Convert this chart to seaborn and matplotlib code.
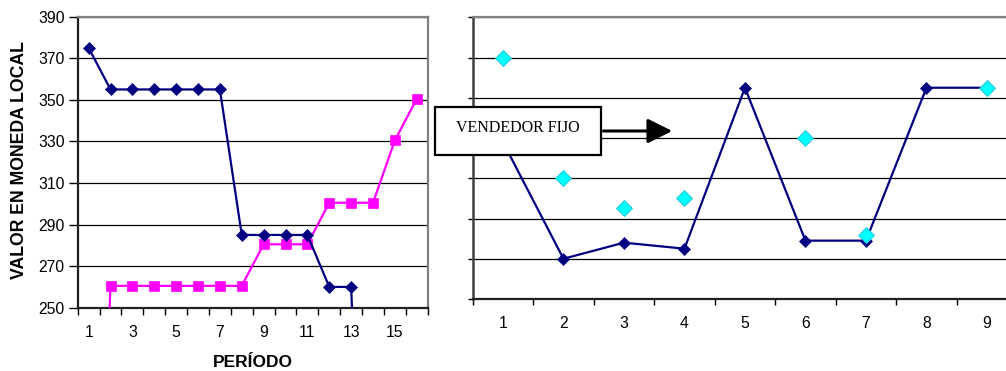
import numpy as np
import pandas as pd
import matplotlib
matplotlib.use("Agg")
import matplotlib.pyplot as plt
import seaborn as sns
from matplotlib.patches import Rectangle, FancyArrowPatch

# ---------------- data ----------------
periods_left = list(range(1, 17))
navy_left = [375, 355, 355, 355, 355, 355, 355, 285, 285, 285, 285, 260, 260, 0, np.nan, np.nan]
pink_left = [0, 260.5, 260.5, 260.5, 260.5, 260.5, 260.5, 260.5, 280.5, 280.5, 280.5, 300.5, 300.5, 300.5, 330.5, 350.5]
left_xticks = [1, 3, 5, 7, 9, 11, 13, 15]
yticks = [250, 270, 290, 310, 330, 350, 370, 390]

periods_right = list(range(1, 10))
navy_right = [328, 270, 278, 275, 355, 279, 279, 355, 355]
cyan_right = [370, 310, 295, 300, np.nan, 330, 282, np.nan, 355]

ylabel = "VALOR EN MONEDA LOCAL"
xlabel = "PERÍODO"
box_text = "VENDEDOR FIJO"

# ---------------- style ----------------
sns.set_theme(style="white")
plt.rcParams['font.family'] = ['Liberation Sans', 'DejaVu Sans']
plt.rcParams.update({
    "text.color": "black", "axes.labelcolor": "black",
    "xtick.color": "black", "ytick.color": "black",
    "xtick.labelcolor": "black", "ytick.labelcolor": "black",
})

W, H = 1006, 371
fig = plt.figure(figsize=(W / 100, H / 100), dpi=100)

def fpos(x0, y_top, x1, y_bot):
    return [x0 / W, 1 - y_bot / H, (x1 - x0) / W, (y_bot - y_top) / H]

NAVY = "#000080"
PINK = "#FF00FF"
CYAN = "#00FFFF"

# ---------------- left chart ----------------
ax1 = fig.add_axes(fpos(77.7, 16.7, 427.7, 307.7))
dl = pd.DataFrame({"p": periods_left, "navy": navy_left, "pink": pink_left})
sns.lineplot(data=dl.dropna(subset=["navy"]), x="p", y="navy", ax=ax1, color=NAVY,
             lw=1.6, marker="D", markersize=6, markeredgecolor=NAVY,
             markeredgewidth=0.5, zorder=4)
sns.lineplot(data=dl, x="p", y="pink", ax=ax1, color=PINK, lw=1.6,
             marker="s", markersize=6.8, markeredgecolor=PINK,
             markeredgewidth=0.5, zorder=3)
ax1.set_xlim(0.5, 16.5)
ax1.set_ylim(250, 390)
ax1.set_yticks(yticks)
ax1.set_xticks(left_xticks)
ax1.set_xticks(np.arange(0.5, 16.6, 1), minor=True)
ax1.tick_params(axis="x", which="major", length=0, pad=12.5, labelsize=11.3, colors="black")
ax1.tick_params(axis="x", which="minor", length=5, width=1, direction="out", color="black", bottom=True)
ax1.tick_params(axis="y", which="major", length=6.5, width=1, direction="out", pad=2.8,
                labelsize=11.3, colors="black", left=True)
ax1.grid(axis="y", color="black", lw=0.9)
ax1.set_axisbelow(True)
ax1.set_xlabel(xlabel, fontsize=12.5, fontweight="bold", labelpad=10.5, color="black")
ax1.set_ylabel(ylabel, fontsize=12.7, fontweight="bold", labelpad=7, color="black")
for s in ["top", "right"]:
    ax1.spines[s].set_color("#808080")
    ax1.spines[s].set_linewidth(1.6)
for s in ["left", "bottom"]:
    ax1.spines[s].set_color("#202020")
    ax1.spines[s].set_linewidth(1.6)
ax1.yaxis.label.set_position((0, (307.7 - 160) / 291))

# ---------------- right chart ----------------
ax2 = fig.add_axes(fpos(472.7, 17.3, 472.7 + 9 * 60.5, 299))
dr = pd.DataFrame({"p": periods_right, "navy": navy_right, "cyan": cyan_right})
sns.lineplot(data=dr, x="p", y="navy", ax=ax2, color=NAVY, lw=1.6, marker="D",
             markersize=6, markeredgecolor=NAVY, markeredgewidth=0.5, zorder=3)
sns.scatterplot(data=dr.dropna(subset=["cyan"]), x="p", y="cyan", ax=ax2, marker="D",
                s=64, color=CYAN, edgecolor="#22CCDD", linewidth=0.8, zorder=5)
ax2.set_xlim(0.5, 9.5)
ax2.set_ylim(250, 390)
ax2.set_yticks(yticks)
ax2.set_yticklabels([])
ax2.set_xticks(periods_right)
ax2.set_xticks(np.arange(0.5, 9.6, 1), minor=True)
ax2.tick_params(axis="x", which="major", length=0, pad=12.5, labelsize=11.3, colors="black")
ax2.tick_params(axis="x", which="minor", length=4.5, width=1, direction="out", color="black", bottom=True)
ax2.tick_params(axis="y", which="major", length=3.5, width=1, direction="out", color="black", left=True)
ax2.grid(axis="y", color="black", lw=0.9)
ax2.set_axisbelow(True)
ax2.set_xlabel("")
ax2.set_ylabel("")
ax2.spines["left"].set_color("#404040")
ax2.spines["left"].set_linewidth(1.8)
ax2.spines["top"].set_color("#808080")
ax2.spines["top"].set_linewidth(1.6)
ax2.spines["bottom"].set_color("#202020")
ax2.spines["bottom"].set_linewidth(1.6)
ax2.spines["right"].set_visible(False)

# ---------------- annotation box + arrow ----------------
bx0, by0, bx1, by1 = 435, 107.3, 600.7, 155.3
rect = Rectangle((bx0 / W, 1 - by1 / H), (bx1 - bx0) / W, (by1 - by0) / H,
                 transform=fig.transFigure, facecolor="white", edgecolor="black",
                 linewidth=1.6, zorder=10)
fig.add_artist(rect)
fig.text((bx0 + bx1) / 2 / W, 1 - 128 / H, box_text, ha="center", va="center",
         fontsize=11.5, family=["Liberation Serif", "DejaVu Serif"], color="black", zorder=11)
arrow = FancyArrowPatch((bx1 / W, 1 - 131 / H), (675 / W, 1 - 131 / H),
                        transform=fig.transFigure, arrowstyle="-|>,head_length=10,head_width=5",
                        mutation_scale=1.5, color="black", lw=2.2, zorder=10)
fig.add_artist(arrow)

fig.savefig("out.png", dpi=100)
